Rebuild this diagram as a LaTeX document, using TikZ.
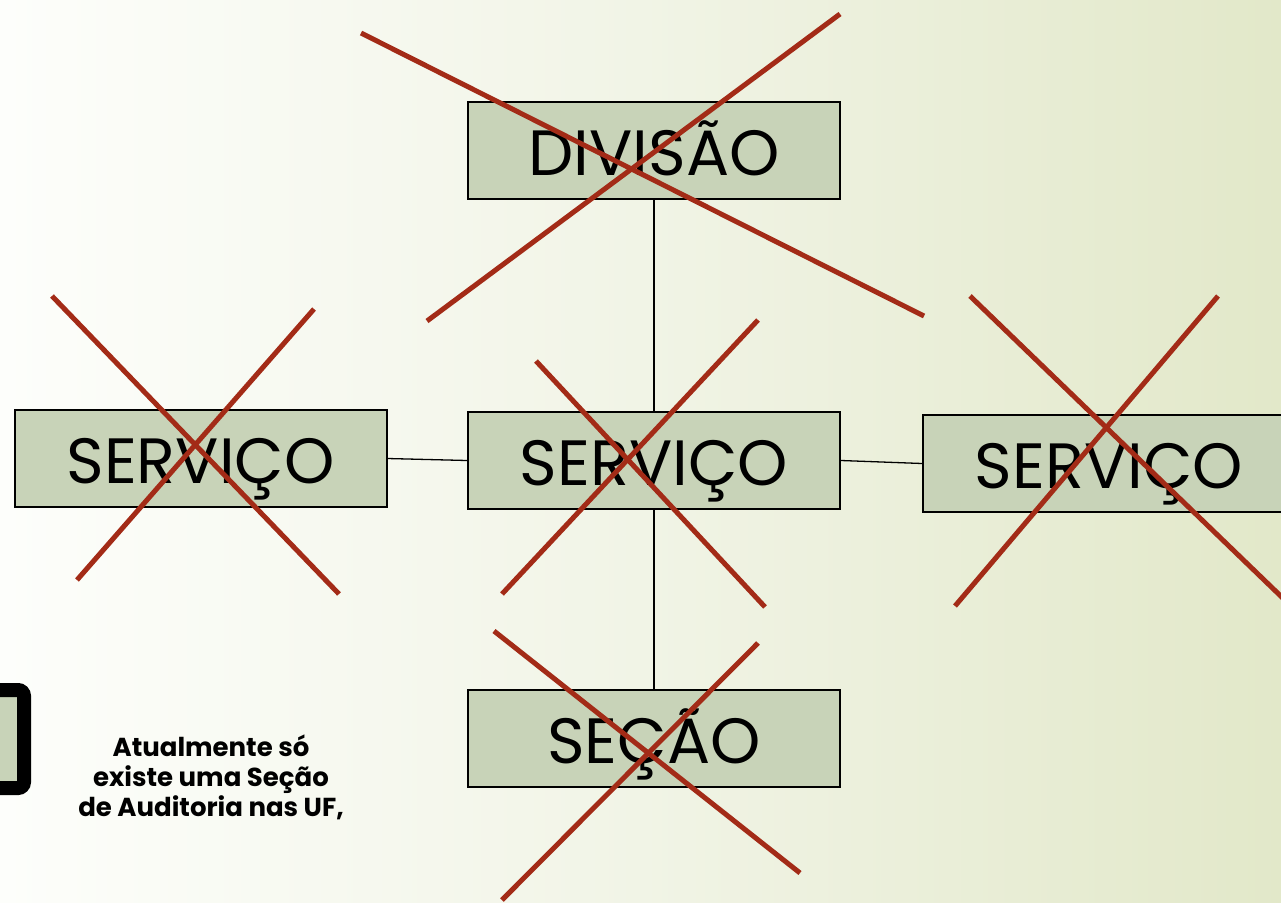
\documentclass[tikz,border=0pt]{standalone}
\usepackage{fontspec}
\setmainfont{Poppins}
\begin{document}
\begin{tikzpicture}[x=1pt,y=-1pt,
  box/.style={draw=black,line width=2pt,fill=boxfill,minimum width=372pt,minimum height=97pt,inner sep=0pt,text height=50pt,text depth=0pt,font=\fontsize{64}{70}\selectfont},
  conn/.style={draw=black,line width=1.3pt},
  cross/.style={draw=crossred,line width=5pt}]
\definecolor{boxfill}{HTML}{C8D3B8}
\definecolor{crossred}{HTML}{A32B17}
\definecolor{bgl}{HTML}{FDFEFB}
\definecolor{bgm}{HTML}{F1F4E6}
\definecolor{bgr}{HTML}{E2E8C9}
\useasboundingbox (0,0) rectangle (1281,902);
\shade[left color=bgl,right color=bgr,middle color=bgm] (0,0) rectangle (1281,902);
% boxes
\node[box] (div) at (654,150.5) {DIVISÃO};
\node[box] (sl) at (200.5,458.5) {SERVIÇO};
\node[box] (sc) at (654,460.5) {SERVIÇO};
\node[box,anchor=west] (sr) at (922,463.5) {SERVIÇO};
\node[box] (sec) at (654,738.5) {SEÇÃO};
% left partial box
\draw[line width=14pt,fill=boxfill,rounded corners=6pt] (-30,690) rectangle (24,788);
% connectors
\draw[conn] (div.south) -- (sc.north);
\draw[conn] (sc.south) -- (sec.north);
\draw[conn] (sl.east) -- (sc.west);
\draw[conn] (sc.east) -- (sr.west);
% crosses
\coordinate (a1) at (361,33); \coordinate (a2) at (924,316);
\coordinate (a3) at (840,14); \coordinate (a4) at (427,321);
\draw[cross] (a1) -- (a2); \draw[cross] (a3) -- (a4);
\coordinate (b1) at (52,296); \coordinate (b2) at (339,594);
\coordinate (b3) at (314,309); \coordinate (b4) at (77,580);
\draw[cross] (b1) -- (b2); \draw[cross] (b3) -- (b4);
\coordinate (c1) at (536,361); \coordinate (c2) at (765,607);
\coordinate (c3) at (758,320); \coordinate (c4) at (502,594);
\draw[cross] (c1) -- (c2); \draw[cross] (c3) -- (c4);
\coordinate (d1) at (970,296); \coordinate (d2) at (1290,605);
\coordinate (d3) at (1218,296); \coordinate (d4) at (955,606);
\draw[cross] (d1) -- (d2); \draw[cross] (d3) -- (d4);
\coordinate (e1) at (494,631); \coordinate (e2) at (800,873);
\coordinate (e3) at (758,643); \coordinate (e4) at (502,900);
\draw[cross] (e1) -- (e2); \draw[cross] (e3) -- (e4);
% note
\node[align=center,font=\bfseries\fontsize{26}{30}\selectfont] (note) at (211,777) {Atualmente só\\existe uma Seção\\de Auditoria nas UF,};
\end{tikzpicture}
\end{document}
